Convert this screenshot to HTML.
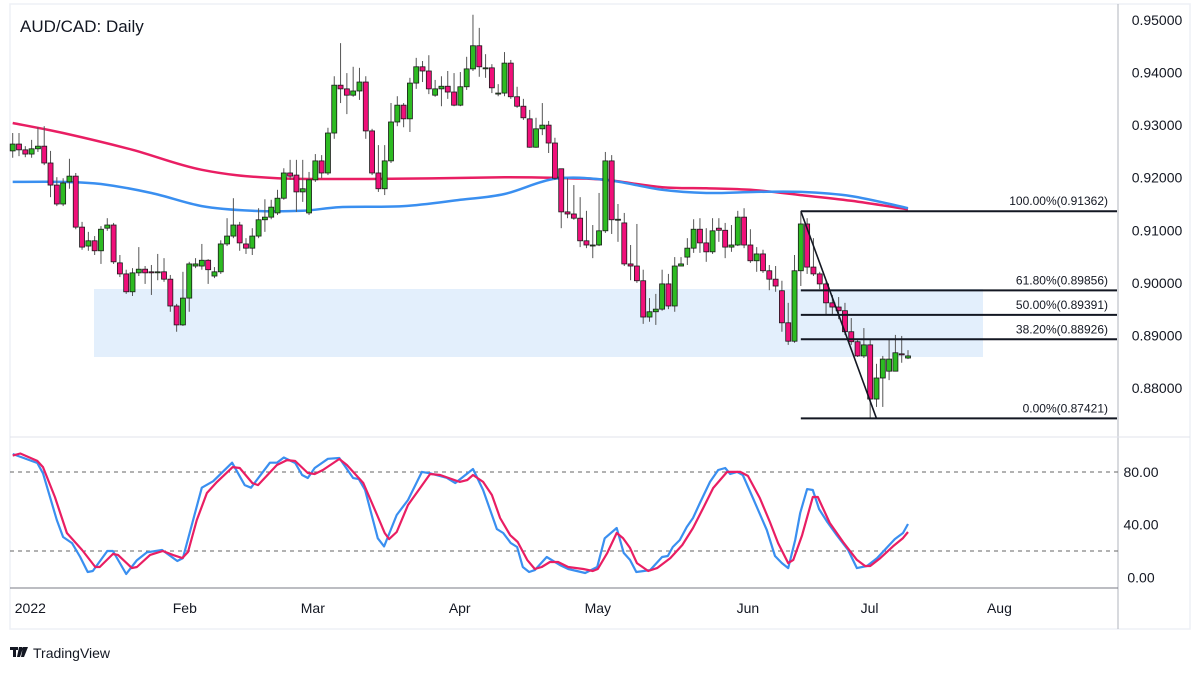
<!DOCTYPE html>
<html><head><meta charset="utf-8">
<style>
html,body{margin:0;padding:0;background:#fff;}
body{width:1200px;height:675px;overflow:hidden;font-family:"Liberation Sans",sans-serif;}
svg text{font-family:"Liberation Sans",sans-serif;}
</style></head>
<body>
<svg id="chart" width="1200" height="675" viewBox="0 0 1200 675" xmlns="http://www.w3.org/2000/svg">
  <rect x="10" y="4" width="1180" height="625" fill="#fff" stroke="#eef0f5" stroke-width="1.5"/>
  <line x1="1118" y1="4" x2="1118" y2="629" stroke="#b2b5be" stroke-width="1"/>
  <line x1="10" y1="437" x2="1190" y2="437" stroke="#e0e3eb" stroke-width="1"/>
  <line x1="10" y1="588" x2="1118" y2="588" stroke="#787b86" stroke-width="1"/>
  <rect x="94" y="289" width="889" height="68" fill="#e3effc"/>
  <g id="ma"></g>
  <g id="candles"></g>
  <g id="fib"></g>
  <g id="osc"></g>
  <g id="axes"></g>
  <text x="20" y="32" font-size="17" fill="#131722">AUD/CAD: Daily</text>
  <g>
    <path d="M10 647h8v3h-2v7h-3v-7h-3z M19 647h3l1 1-3 9h-3z M23 647h5l-4 10h-3z" fill="#131722"/>
    <text x="33" y="658" font-size="14" fill="#131722">TradingView</text>
  </g>
</svg>
<script>
// ---- price data (candle index order) ----
const opens=[0.9251,0.9264,0.9253,0.9245,0.9255,0.9260,0.9228,0.9186,0.9150,0.9192,0.9203,0.9106,0.9070,0.9080,0.9061,0.9104,0.9110,0.9038,0.9017,0.8983,0.9019,0.9026,0.9021,0.9021,0.9021,0.9007,0.8956,0.8920,0.8971,0.9032,0.9032,0.9043,0.9013,0.9021,0.9074,0.9089,0.9110,0.9074,0.9066,0.9089,0.9120,0.9125,0.9133,0.9161,0.9209,0.9205,0.9173,0.9133,0.9196,0.9232,0.9209,0.9285,0.9376,0.9369,0.9357,0.9365,0.9382,0.9289,0.9209,0.9179,0.9232,0.9306,0.9338,0.9312,0.9380,0.9411,0.9403,0.9357,0.9369,0.9374,0.9363,0.9338,0.9373,0.9407,0.9451,0.9409,0.9409,0.9361,0.9361,0.9418,0.9354,0.9336,0.9312,0.9258,0.9293,0.9300,0.9266,0.9217,0.9135,0.9131,0.9123,0.9080,0.9072,0.9072,0.9099,0.9232,0.9120,0.9114,0.9036,0.9032,0.9004,0.8935,0.8945,0.8950,0.8998,0.8956,0.9032,0.9049,0.9066,0.9102,0.9076,0.9059,0.9104,0.9100,0.9068,0.9072,0.9125,0.9072,0.9042,0.9055,0.9023,0.9007,0.8985,0.8924,0.8889,0.9023,0.9112,0.9030,0.9017,0.8998,0.8962,0.8954,0.8947,0.8907,0.8888,0.8861,0.8882,0.8779,0.8819,0.8832,0.8832,0.8865,0.8857];
const closes=[0.9264,0.9253,0.9245,0.9255,0.9260,0.9228,0.9186,0.9150,0.9190,0.9203,0.9106,0.9068,0.9080,0.9061,0.9102,0.9110,0.9040,0.9017,0.8983,0.9019,0.9026,0.9019,0.9019,0.9021,0.9007,0.8956,0.8920,0.8971,0.9036,0.9036,0.9043,0.9025,0.9021,0.9074,0.9089,0.9110,0.9076,0.9066,0.9089,0.9120,0.9125,0.9144,0.9161,0.9209,0.9203,0.9173,0.9179,0.9196,0.9232,0.9209,0.9285,0.9376,0.9369,0.9357,0.9365,0.9382,0.9289,0.9209,0.9179,0.9232,0.9306,0.9338,0.9312,0.9380,0.9411,0.9403,0.9369,0.9369,0.9374,0.9363,0.9338,0.9373,0.9407,0.9451,0.9411,0.9409,0.9371,0.9361,0.9418,0.9354,0.9336,0.9314,0.9258,0.9293,0.9300,0.9266,0.9199,0.9135,0.9131,0.9123,0.9080,0.9072,0.9072,0.9099,0.9232,0.9120,0.9121,0.9036,0.9032,0.9004,0.8935,0.8945,0.8950,0.8998,0.8956,0.9032,0.9036,0.9066,0.9102,0.9076,0.9059,0.9099,0.9100,0.9068,0.9072,0.9125,0.9072,0.9042,0.9055,0.9023,0.9007,0.8994,0.8924,0.8889,0.9023,0.9112,0.9030,0.9017,0.8998,0.8962,0.8954,0.8947,0.8907,0.8888,0.8861,0.8882,0.8779,0.8819,0.8855,0.8855,0.8867,0.8863,0.8861];
const highs=[0.9285,0.9285,0.9260,0.9272,0.9296,0.9298,0.9251,0.9201,0.9199,0.9236,0.9209,0.9116,0.9097,0.9089,0.9108,0.9123,0.9114,0.9053,0.9025,0.9028,0.9068,0.9032,0.9034,0.9055,0.9047,0.9015,0.8960,0.9021,0.9040,0.9047,0.9074,0.9045,0.9030,0.9081,0.9123,0.9161,0.9116,0.9085,0.9104,0.9142,0.9159,0.9158,0.9177,0.9218,0.9234,0.9234,0.9234,0.9211,0.9245,0.9243,0.9295,0.9393,0.9456,0.9399,0.9411,0.9409,0.9393,0.9293,0.9262,0.9262,0.9342,0.9355,0.9342,0.9390,0.9428,0.9422,0.9433,0.9386,0.9393,0.9403,0.9399,0.9401,0.9430,0.9510,0.9485,0.9435,0.9416,0.9378,0.9439,0.9424,0.9373,0.9350,0.9329,0.9314,0.9342,0.9308,0.9276,0.9217,0.9199,0.9186,0.9163,0.9137,0.9110,0.9171,0.9249,0.9243,0.9150,0.9133,0.9072,0.9112,0.9025,0.8971,0.8979,0.9025,0.9017,0.9049,0.9049,0.9085,0.9121,0.9123,0.9104,0.9123,0.9123,0.9114,0.9110,0.9137,0.9142,0.9102,0.9068,0.9063,0.9034,0.9032,0.9004,0.8962,0.9053,0.9133,0.9123,0.9085,0.9021,0.9002,0.8977,0.8973,0.8962,0.8933,0.8891,0.8914,0.8891,0.8846,0.8861,0.8893,0.8901,0.8899,0.8872];
const lows=[0.9238,0.9241,0.9239,0.9238,0.9249,0.9224,0.9163,0.9146,0.9146,0.9179,0.9102,0.9063,0.9061,0.9053,0.9036,0.9099,0.9036,0.9011,0.8979,0.8975,0.9013,0.8998,0.8977,0.9005,0.9002,0.8945,0.8907,0.8918,0.8945,0.9028,0.9025,0.8998,0.9009,0.9017,0.9070,0.9085,0.9061,0.9055,0.9053,0.9085,0.9097,0.9121,0.9129,0.9158,0.9196,0.9135,0.9154,0.9129,0.9192,0.9199,0.9205,0.9274,0.9342,0.9321,0.9354,0.9348,0.9274,0.9205,0.9173,0.9167,0.9228,0.9298,0.9296,0.9287,0.9369,0.9382,0.9359,0.9354,0.9336,0.9350,0.9336,0.9336,0.9367,0.9403,0.9392,0.9390,0.9361,0.9355,0.9355,0.9350,0.9333,0.9310,0.9257,0.9257,0.9281,0.9247,0.9196,0.9104,0.9123,0.9120,0.9068,0.9066,0.9047,0.9070,0.9095,0.9093,0.9078,0.9032,0.9005,0.9000,0.8922,0.8926,0.8920,0.8947,0.8950,0.8945,0.9032,0.9034,0.9057,0.9057,0.9040,0.9055,0.9078,0.9047,0.9059,0.9070,0.9066,0.9038,0.9021,0.9019,0.8986,0.8983,0.8907,0.8882,0.8886,0.8994,0.9017,0.9013,0.8988,0.8939,0.8939,0.8931,0.8901,0.8882,0.8859,0.8857,0.8743,0.8764,0.8764,0.8815,0.8832,0.8848,0.8855];
// moving averages: sample candle indices + values
const maSlowIdx=[0,8,19,30,42,60,78,88,94,103,110,117,125,133,142];
const maSlowVal=[0.9304,0.9285,0.9253,0.9215,0.9199,0.9198,0.9201,0.9199,0.9196,0.9182,0.9180,0.9177,0.9167,0.9156,0.9140];
const maFastIdx=[0,8,14,22,30,38,46,52,62,71,78,86,94,103,110,118,125,133,142];
const maFastVal=[0.9192,0.9192,0.9188,0.9171,0.9146,0.9137,0.9137,0.9144,0.9146,0.9158,0.9169,0.9198,0.9196,0.9177,0.9171,0.9173,0.9173,0.9165,0.9142];
// fibonacci
const fibLevels=["100.00%","61.80%","50.00%","38.20%","0.00%"];
const fibPrices=[0.91362,0.89856,0.89391,0.88926,0.87421];
const fibStartIdx=125, fibLowIdx=137;
// stochastic %K and %D
const kIdx=[0,3.9,4.8,7.0,8.0,9.4,10.7,11.9,12.7,15.0,15.9,18.0,19.7,21.3,23.7,26.1,27.0,30.0,31.8,34.8,36.8,37.8,40.8,41.9,43.0,44.8,45.9,46.8,47.9,50.0,51.8,54.0,54.9,55.9,57.9,58.9,60.9,62.7,64.9,66.2,68.9,70.2,73.0,74.6,76.8,77.8,79.0,80.0,80.9,81.9,82.8,84.7,86.8,88.1,90.8,92.7,93.9,95.8,96.9,97.9,98.9,101.1,103.0,103.9,104.7,105.8,106.9,107.9,109.0,110.6,111.9,113.0,113.8,114.9,115.8,117.4,119.6,120.9,122.0,123.0,124.1,124.9,126.0,126.9,127.9,129.2,130.7,132.5,133.9,135.5,137.1,139.9,141.2,142.0];
const kVal=[93.6,86.8,79,43.5,30.6,26,15.4,4,4.8,20,20,2.5,13,19,20.7,12.4,14.6,68,73,87,70,68,87,87,91,86.8,77.7,75.4,83,90,90.6,75.3,74.6,66.3,29.6,23.5,47.3,58.7,80,79,75.4,71.6,82.2,66.3,36.6,33.6,26,23,7.8,4,5.5,15.4,9.3,6.3,3.3,7.8,29.6,37.4,18.5,13.2,4,5.5,15.4,16.2,23,28.3,38.1,45,56.4,72.4,81.5,83,78.4,80,77.7,60.2,35.9,16.2,10.8,7,28.3,48.8,67,66.3,51.8,42,32,20.7,7,8.6,14.6,29,33.6,40.5];
const dIdx=[0,1.2,3.9,4.8,6.7,8.6,11.0,13.1,13.8,15.9,16.7,18.9,19.7,21.8,23.8,25.4,26.9,27.8,29.2,30.8,32.4,34.9,36.0,38.0,38.9,41.9,43.5,44.8,46.8,47.9,49.2,51.8,53.0,55.6,57.8,59.0,59.7,60.9,62.7,66.2,67.8,70.9,72.1,73.0,74.6,76.0,77.3,78.9,80.1,81.6,82.8,83.9,85.2,86.5,88.1,90.5,92.0,92.8,94.3,95.8,96.8,97.9,99.0,100.8,102.2,104.3,106.2,107.9,109.5,111.1,113.3,115.4,116.6,118.5,120.1,121.4,123.0,123.8,125.2,126.9,127.7,129.6,131.7,133.9,135.2,136.0,137.6,139.6,141.2,142.0];
const dVal=[92.4,94,88.4,83.7,61,33.6,20.7,7.8,7.8,17.7,17,7,7.8,17,20,17,14.6,19.2,43.5,64,72.4,83.7,83,71.6,70,85.3,89,88.3,79.2,78.4,81.5,89.8,85.3,71.6,47.3,33.6,29,34.4,54.9,78.4,77.7,72.4,73.9,77.7,72.4,62.5,45,32,26.8,13.2,6.3,7.8,11.6,11.6,7.8,6.3,4.8,6.3,18.5,33.6,29.8,22.3,10.8,4.8,7,14.6,24.5,37.4,52.5,67.8,80,80,77,60.2,42,26,10.8,13.2,32,61,61,41.2,26.8,13.2,8.6,8.6,14.6,23.5,29.8,34.4];
// axes labels
const priceTicks=[0.95,0.94,0.93,0.92,0.91,0.90,0.89,0.88];
const oscTicks=[80,40,0];
const monthLabels=["2022","Feb","Mar","Apr","May","Jun","Jul","Aug"];
const monthIdx=[2.8,27.3,47.6,70.9,92.8,116.6,135.9,156.5];

// ---- scales ----
const X=i=>12.7+6.305*i;
const Y=p=>20+(0.95-p)*5257;
const YO=v=>577.3-v*1.317;
const NS="http://www.w3.org/2000/svg";
function mk(tag,attrs,parent){const e=document.createElementNS(NS,tag);for(const k in attrs)e.setAttribute(k,attrs[k]);parent.appendChild(e);return e;}

function drawLine(idx,val,fy,color,w,parent,name,smooth){
  const pts=idx.map((i,n)=>[X(i),fy(val[n])]);
  let d='M'+pts[0][0].toFixed(1)+' '+pts[0][1].toFixed(1);
  for(let n=1;n<pts.length;n++){
    if(smooth){
      const p0=pts[Math.max(0,n-2)],p1=pts[n-1],p2=pts[n],p3=pts[Math.min(pts.length-1,n+1)];
      const c1=[p1[0]+(p2[0]-p0[0])/6,p1[1]+(p2[1]-p0[1])/6];
      const c2=[p2[0]-(p3[0]-p1[0])/6,p2[1]-(p3[1]-p1[1])/6];
      d+=' C'+c1[0].toFixed(1)+' '+c1[1].toFixed(1)+' '+c2[0].toFixed(1)+' '+c2[1].toFixed(1)+' '+p2[0].toFixed(1)+' '+p2[1].toFixed(1);
    } else d+=' L'+pts[n][0].toFixed(1)+' '+pts[n][1].toFixed(1);
  }
  const p=mk('path',{d:d,fill:'none',stroke:color,'stroke-width':w,'stroke-linejoin':'round'},parent);
  
  
}
const gMA=document.getElementById('ma');
drawLine(maSlowIdx,maSlowVal,Y,'#e91e63',2.5,gMA,'ma-slow-line',true);
drawLine(maFastIdx,maFastVal,Y,'#3a8ff0',2.5,gMA,'ma-fast-line',true);

// candles
const gC=document.getElementById('candles');
for(let i=0;i<closes.length;i++){
  const up=closes[i]>=opens[i];
  const x=X(i);
  const w=mk('line',{x1:x,x2:x,y1:Y(highs[i]),y2:Y(lows[i]),stroke:'#555','stroke-width':1},gC);
  
  
  const top=Y(Math.max(opens[i],closes[i])),bot=Y(Math.min(opens[i],closes[i]));
  const b=mk('rect',{x:x-2.5,y:top,width:5,height:Math.max(1,bot-top),fill:up?'#2dbb22':'#f0107a',stroke:'#1a1a1a','stroke-width':0.8},gC);
  
  
}

// fib
const gF=document.getElementById('fib');
const fx0=X(fibStartIdx);
for(let n=0;n<fibPrices.length;n++){
  const y=Y(fibPrices[n]);
  const l=mk('line',{x1:fx0,x2:1117,y1:y,y2:y,stroke:'#131722','stroke-width':2},gF);
  
  
  const t=mk('text',{x:1108,y:y-6,'font-size':12,fill:'#131722','text-anchor':'end'},gF);
  t.textContent=fibLevels[n]+'('+fibPrices[n].toFixed(5)+')';
  
  
}
const tl=mk('line',{x1:fx0,y1:Y(fibPrices[0]),x2:X(fibLowIdx),y2:Y(fibPrices[4]),stroke:'#131722','stroke-width':1.6},gF);



// oscillator
const gO=document.getElementById('osc');
[80,20].forEach(v=>{
  const l=mk('line',{x1:10,x2:1118,y1:YO(v),y2:YO(v),stroke:'#666','stroke-width':1,'stroke-dasharray':'4 4'},gO);
  
  
});
drawLine(kIdx,kVal,YO,'#3a8ff0',2.2,gO,'stoch-k-line',false);
drawLine(dIdx,dVal,YO,'#e91e63',2.2,gO,'stoch-d-line',false);

// axes
const gA=document.getElementById('axes');
priceTicks.forEach(p=>{
  const t=mk('text',{x:1157,y:Y(p)+5,'font-size':14,fill:'#131722','text-anchor':'middle'},gA);
  t.textContent=p.toFixed(5);
  
  
});
oscTicks.forEach(v=>{
  const t=mk('text',{x:1141,y:YO(v)+5,'font-size':14,fill:'#131722','text-anchor':'middle'},gA);
  t.textContent=v.toFixed(2);
  
  
});
monthLabels.forEach((m,n)=>{
  const t=mk('text',{x:X(monthIdx[n]),y:613,'font-size':14,fill:'#131722','text-anchor':'middle'},gA);
  t.textContent=m;
  
  
});
</script>
</body></html>
